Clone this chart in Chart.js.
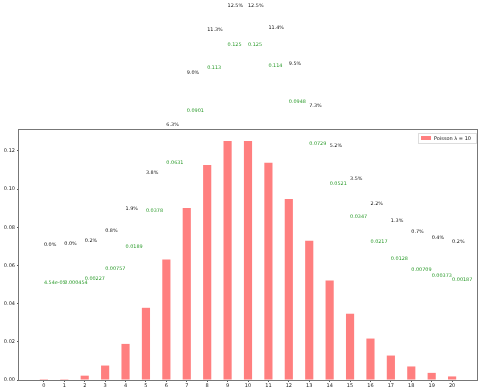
<!DOCTYPE html>
<html>
<head>
<meta charset="utf-8">
<script src="https://cdn.jsdelivr.net/npm/chart.js@4/dist/chart.umd.min.js"></script>
<style>
  body { margin: 0; background: #fff; }
</style>
</head>
<body>
<canvas id="chart" width="480" height="392"></canvas>
<script>
// k values and Poisson(10) probabilities
const categories = [0, 1, 2, 3, 4, 5, 6, 7, 8, 9, 10, 11, 12, 13, 14, 15, 16, 17, 18, 19, 20];
const probs = [0.0000454, 0.000454, 0.00227, 0.00757, 0.0189, 0.0378, 0.0631, 0.0901, 0.1126, 0.1251,
  0.1251, 0.1137, 0.0948, 0.0729, 0.0521, 0.0347, 0.0217, 0.0128, 0.00709, 0.00373, 0.00187];
const yTicks = [0, 0.02, 0.04, 0.06, 0.08, 0.10, 0.12];
const seriesLabel = "Poisson \u03bb = 10";

const FONT = "DejaVu Sans";

// like python's %g with 3 digits
const fmtG = (v) => {
  if (v < 1e-4) return v.toExponential(2).replace(/e([+-])(\d)$/, "e$10$2");
  return v.toPrecision(3);
};
const fmtPct = (v) => (v * 100).toFixed(1) + "%";

// annotations, frame and legend
const extras = {
  id: "extras",
  afterDatasetsDraw(chart) {
    const { ctx, chartArea: a } = chart;
    const xs = chart.scales.x, ys = chart.scales.y;
    ctx.save();
    ctx.font = "4.9px '" + FONT + "'";
    ctx.textAlign = "left";
    ctx.textBaseline = "alphabetic";
    categories.forEach((k, i) => {
      const x = xs.getPixelForValue(k);
      ctx.fillStyle = "#2a9a2a";
      ctx.fillText(fmtG(probs[i]), x, ys.getPixelForValue(probs[i] + 0.05));
      ctx.fillStyle = "#111";
      ctx.fillText(fmtPct(probs[i]), x, ys.getPixelForValue(probs[i] + 0.07));
    });

    // axes frame
    ctx.strokeStyle = "#777";
    ctx.lineWidth = 1;
    ctx.strokeRect(Math.round(a.left) - 0.5, Math.round(a.top) - 0.5,
      Math.round(a.right - a.left) + 1, Math.round(a.bottom - a.top) + 1);

    // legend box, upper right
    const lw = 58, lh = 10;
    const lx = a.right - lw - 1, ly = a.top + 3;
    ctx.fillStyle = "rgba(255,255,255,0.8)";
    ctx.fillRect(lx, ly, lw, lh);
    ctx.strokeStyle = "#ddd";
    ctx.strokeRect(lx + 0.5, ly + 0.5, lw, lh);
    ctx.fillStyle = "rgba(255,0,0,0.5)";
    ctx.fillRect(lx + 3, ly + 3, 10, 4);
    ctx.fillStyle = "#111";
    ctx.textBaseline = "middle";
    ctx.font = "5px '" + FONT + "'";
    ctx.fillText(chart.data.datasets[0].label, lx + 16, ly + lh / 2 + 0.5);
    ctx.restore();
  },
};

new Chart(document.getElementById("chart"), {
  type: "bar",
  plugins: [extras],
  data: {
    datasets: [
      {
        label: seriesLabel,
        data: categories.map((k, i) => ({ x: k, y: probs[i] })),
        backgroundColor: "rgba(255,0,0,0.5)",
        borderWidth: 0,
        categoryPercentage: 1,
        barPercentage: 0.4,
      },
    ],
  },
  options: {
    responsive: false,
    animation: false,
    layout: { padding: { top: 130, right: 3, left: 0, bottom: 0 } },
    plugins: {
      legend: { display: false },
      tooltip: { enabled: false },
    },
    scales: {
      x: {
        type: "linear",
        offset: false,
        min: -1.22,
        max: 21.22,
        afterBuildTicks: (axis) => { axis.ticks = categories.map((v) => ({ value: v })); },
        afterFit: (s) => { s.height = 12; },
        grid: { display: true, offset: false, drawOnChartArea: false, drawTicks: true, tickLength: 2, color: "#555" },
        border: { display: false },
        ticks: { color: "#222", font: { family: FONT, size: 5 }, padding: 1, maxRotation: 0, autoSkip: false },
      },
      y: {
        min: 0,
        max: 0.1309,
        afterBuildTicks: (axis) => { axis.ticks = yTicks.map((v) => ({ value: v })); },
        afterFit: (s) => { s.width = 19; },
        grid: { display: true, drawOnChartArea: false, drawTicks: true, tickLength: 2, color: "#555" },
        border: { display: false },
        ticks: { color: "#222", font: { family: FONT, size: 5 }, padding: 2, callback: (v) => v.toFixed(2) },
      },
    },
  },
});
</script>
</body>
</html>
